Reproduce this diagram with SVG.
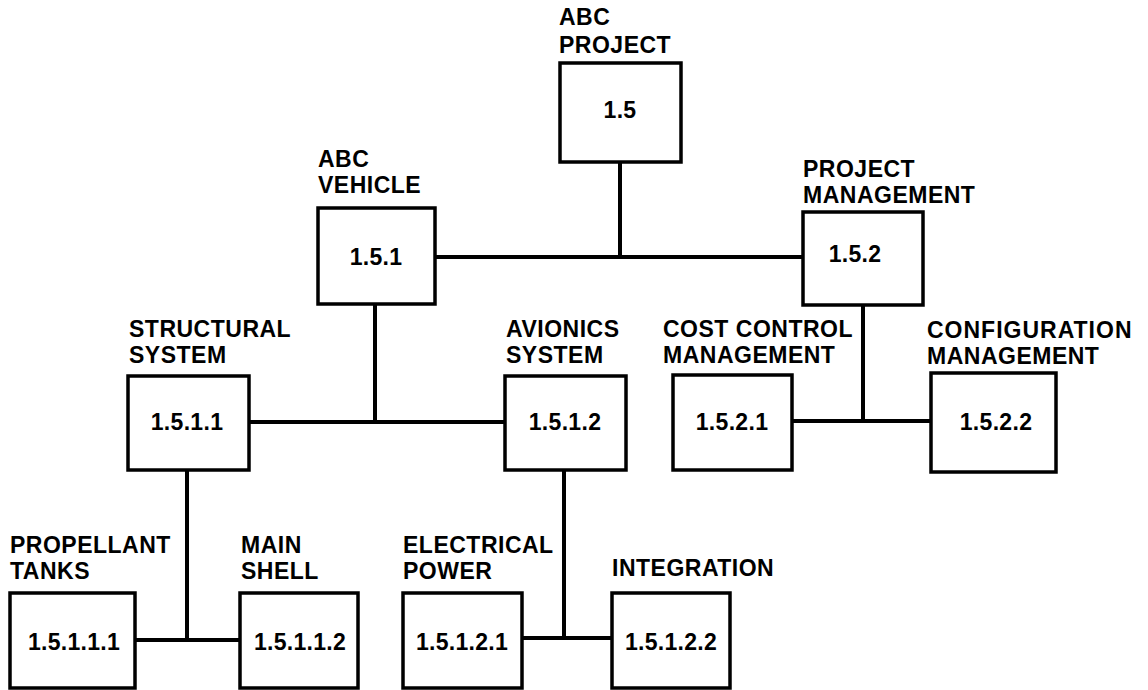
<svg xmlns="http://www.w3.org/2000/svg" width="1148" height="690" viewBox="0 0 1148 690">
<style>
.box{fill:#fff;stroke:#000;stroke-width:3.5}
.lbl{font-family:"Liberation Sans",Arial,sans-serif;font-weight:bold;font-size:23px;letter-spacing:0.5px;fill:#000}
.num{font-family:"Liberation Sans",Arial,sans-serif;font-weight:bold;font-size:23px;letter-spacing:0.3px;fill:#000;text-anchor:middle}
.con{stroke:#000;stroke-width:4;fill:none}
</style>
<rect width="1148" height="690" fill="#fff"/>
<g id="connectors">
<line class="con" x1="620" y1="162" x2="620" y2="257"/>
<line class="con" x1="435" y1="257" x2="803" y2="257"/>
<line class="con" x1="375" y1="304" x2="375" y2="422"/>
<line class="con" x1="249" y1="422" x2="505" y2="422"/>
<line class="con" x1="863" y1="305" x2="863" y2="421"/>
<line class="con" x1="792" y1="421" x2="931" y2="421"/>
<line class="con" x1="187" y1="470" x2="187" y2="640"/>
<line class="con" x1="135" y1="640" x2="240" y2="640"/>
<line class="con" x1="564" y1="470" x2="564" y2="638"/>
<line class="con" x1="522" y1="638" x2="612" y2="638"/>
</g>
<g id="n1_5">
<text class="lbl" x="559" y="25">ABC</text>
<text class="lbl" x="559" y="53">PROJECT</text>
<rect class="box" x="560" y="63" width="121" height="99"/>
<text class="num" x="620" y="118">1.5</text>
</g>
<g id="n1_5_1">
<text class="lbl" x="318" y="167">ABC</text>
<text class="lbl" x="318" y="193">VEHICLE</text>
<rect class="box" x="318" y="208" width="117" height="96"/>
<text class="num" x="376" y="265">1.5.1</text>
</g>
<g id="n1_5_2">
<text class="lbl" x="803" y="177">PROJECT</text>
<text class="lbl" x="803" y="203">MANAGEMENT</text>
<rect class="box" x="803" y="212" width="120" height="93"/>
<text class="num" x="855" y="262">1.5.2</text>
</g>
<g id="n1_5_1_1">
<text class="lbl" x="129" y="337">STRUCTURAL</text>
<text class="lbl" x="129" y="363">SYSTEM</text>
<rect class="box" x="128" y="376" width="121" height="94"/>
<text class="num" x="187" y="430">1.5.1.1</text>
</g>
<g id="n1_5_1_2">
<text class="lbl" x="506" y="337">AVIONICS</text>
<text class="lbl" x="506" y="363">SYSTEM</text>
<rect class="box" x="505" y="376" width="121" height="94"/>
<text class="num" x="565" y="430">1.5.1.2</text>
</g>
<g id="n1_5_2_1">
<text class="lbl" x="663" y="337">COST CONTROL</text>
<text class="lbl" x="663" y="363">MANAGEMENT</text>
<rect class="box" x="673" y="375" width="119" height="95"/>
<text class="num" x="732" y="430">1.5.2.1</text>
</g>
<g id="n1_5_2_2">
<text class="lbl" x="927" y="338" style="letter-spacing:1px">CONFIGURATION</text>
<text class="lbl" x="927" y="364">MANAGEMENT</text>
<rect class="box" x="931" y="373" width="125" height="99"/>
<text class="num" x="996" y="430">1.5.2.2</text>
</g>
<g id="n1_5_1_1_1">
<text class="lbl" x="10" y="553">PROPELLANT</text>
<text class="lbl" x="10" y="579">TANKS</text>
<rect class="box" x="10" y="593" width="125" height="95"/>
<text class="num" x="74" y="650">1.5.1.1.1</text>
</g>
<g id="n1_5_1_1_2">
<text class="lbl" x="241" y="553">MAIN</text>
<text class="lbl" x="241" y="579">SHELL</text>
<rect class="box" x="240" y="593" width="118" height="95"/>
<text class="num" x="300" y="650">1.5.1.1.2</text>
</g>
<g id="n1_5_1_2_1">
<text class="lbl" x="403" y="553">ELECTRICAL</text>
<text class="lbl" x="403" y="579">POWER</text>
<rect class="box" x="403" y="593" width="119" height="95"/>
<text class="num" x="462" y="650">1.5.1.2.1</text>
</g>
<g id="n1_5_1_2_2">
<text class="lbl" x="612" y="576">INTEGRATION</text>
<rect class="box" x="612" y="593" width="118" height="95"/>
<text class="num" x="671" y="650">1.5.1.2.2</text>
</g>
</svg>
